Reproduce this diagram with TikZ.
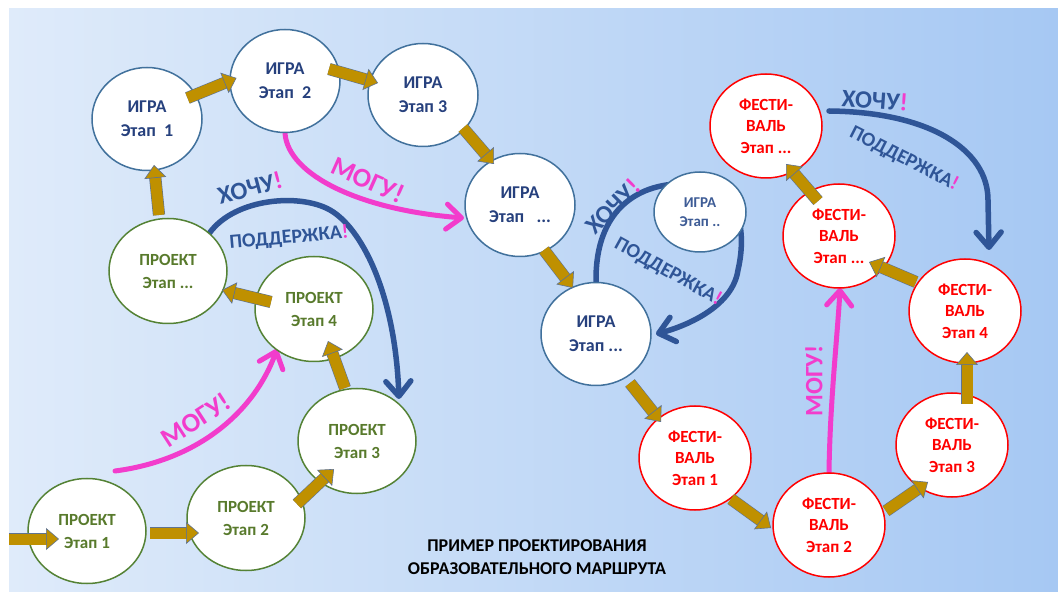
\documentclass[tikz,border=0pt]{standalone}
\usepackage{fontspec}
\setmainfont{Carlito}
\usetikzlibrary{shapes.geometric,arrows.meta,calc}
\definecolor{igraborder}{RGB}{65,113,156}
\definecolor{igratext}{RGB}{38,64,125}
\definecolor{igratextlight}{RGB}{62,92,150}
\definecolor{projborder}{RGB}{84,130,53}
\definecolor{projtext}{RGB}{88,122,44}
\definecolor{festred}{RGB}{255,0,0}
\definecolor{goldc}{RGB}{191,144,0}
\definecolor{goldedge}{RGB}{95,115,145}
\definecolor{pinkc}{RGB}{242,60,204}
\definecolor{arcblue}{RGB}{47,85,151}
\definecolor{bgleft}{RGB}{223,235,250}
\definecolor{bgright}{RGB}{166,200,243}
\pgfdeclarelayer{bg}
\pgfdeclarelayer{mid}
\pgfsetlayers{bg,mid,main}
\begin{document}
\begin{tikzpicture}[x=1pt,y=-1pt,
  stage/.style={ellipse, fill=white, line width=1.5pt, inner sep=0pt, align=center},
  igra/.style={stage, draw=igraborder, text=igratext, font=\bfseries\fontsize{18}{24}\selectfont, minimum width=110pt, minimum height=103pt},
  igrasmall/.style={stage, draw=igraborder, text=igratextlight, font=\bfseries\fontsize{15}{19}\selectfont, minimum width=92pt, minimum height=80pt},
  proj/.style={stage, draw=projborder, text=projtext, font=\bfseries\fontsize{17}{23}\selectfont, minimum width=118pt, minimum height=105pt},
  fest/.style={stage, draw=festred, text=festred, font=\bfseries\fontsize{17}{21.5}\selectfont, minimum width=112pt, minimum height=104pt},
  goldarrow/.style={draw=goldc, line width=11pt,
    -{Triangle[width=22pt,length=13pt,color=goldedge,fill=goldc,line width=0.6pt]},
    preaction={draw=goldedge, line width=12.2pt, -, shorten >=12pt}},
  pinkarrow/.style={draw=pinkc, line width=5pt, line cap=round,
    -{Straight Barb[length=15pt,width=25pt,round]}},
  bluearrow/.style={draw=arcblue, line width=5.5pt, line cap=round,
    -{Straight Barb[length=15pt,width=25pt,round]}},
  wantlbl/.style={inner sep=0pt, text=arcblue, font=\bfseries\fontsize{25}{25}\selectfont},
  supportlbl/.style={inner sep=0pt, text=arcblue, font=\bfseries\fontsize{20}{20}\selectfont},
  canlbl/.style={inner sep=0pt, text=pinkc, font=\bfseries\fontsize{27}{27}\selectfont},
  titlelbl/.style={inner sep=0pt, text=black, align=center, font=\bfseries\fontsize{18}{23}\selectfont}
]
\useasboundingbox (0,0) rectangle (1058,593);
\begin{pgfonlayer}{bg}
  \fill[white] (0,0) rectangle (1058,593);
  \shade[left color=bgleft, right color=bgright] (9,9) rectangle (1058,591);
\end{pgfonlayer}

% ---------- nodes ----------
\node[igra] (I1) at (147,119) {ИГРА\\Этап~~1};
\node[igra] (I2) at (285,81) {ИГРА\\Этап~~2};
\node[igra] (I3) at (423,95) {ИГРА\\Этап 3};
\node[igra] (I4) at (520,205) {ИГРА\\Этап~~~...};
\node[igrasmall] (I5) at (700,212) {ИГРА\\Этап ..};
\node[igra] (I6) at (596,334) {ИГРА\\Этап ...};

\node[proj] (P5) at (168,271) {ПРОЕКТ\\Этап ...};
\node[proj] (P4) at (314,309) {ПРОЕКТ\\Этап 4};
\node[proj] (P3) at (357,441) {ПРОЕКТ\\Этап 3};
\node[proj] (P2) at (246,518) {ПРОЕКТ\\Этап 2};
\node[proj] (P1) at (87,531) {ПРОЕКТ\\Этап 1};

\node[fest] (F1) at (695,458) {ФЕСТИ-\\ВАЛЬ\\Этап 1};
\node[fest] (F2) at (829,525) {ФЕСТИ-\\ВАЛЬ\\Этап 2};
\node[fest] (F3) at (952,445) {ФЕСТИ-\\ВАЛЬ\\Этап 3};
\node[fest] (F4) at (965,311) {ФЕСТИ-\\ВАЛЬ\\Этап 4};
\node[fest] (F5) at (839,236) {ФЕСТИ-\\ВАЛЬ\\Этап ...};
\node[fest] (F6) at (766,126) {ФЕСТИ-\\ВАЛЬ\\Этап ...};

\coordinate (entry) at (9,539);

% ---------- curved arrows (behind nodes) ----------
\begin{pgfonlayer}{mid}
  % МОГУ! upper
  \draw[pinkarrow] (I2.south) .. controls (288,175) and (360,210) .. ($(I4)+(-56,13)$);
  % МОГУ! lower
  \draw[pinkarrow] ($(P1)+(28,-60)$) .. controls (200,460) and (255,410) .. ($(P4)+(-37,40)$);
  % МОГУ! vertical
  \draw[pinkarrow] (F2.north) .. controls (830,400) and (838,330) .. ($(F5)+(1,52)$);
  % ХОЧУ! left
  \draw[bluearrow] ($(P5)+(41.5,-38)$) .. controls (235,198) and (300,193) .. (330,210)
     .. controls (360,227) and (395,290) .. ($(P3)+(42,-42)$);
  % ХОЧУ! middle loop
  \draw[bluearrow] (I6.north) .. controls (595,200) and (650,178) .. (700,185)
     .. controls (745,192) and (745,240) .. (738,270)
     .. controls (733,305) and (690,325) .. ($(I6)+(60,0)$);
  % ХОЧУ! right
  \draw[bluearrow] ($(F6)+(63,-15)$) .. controls (930,112) and (988,150) .. (988,200)
     -- ($(F4)+(24,-61)$);
\end{pgfonlayer}

% ---------- golden arrows ----------
\draw[goldarrow] ($(I1)+(40.5,-21)$) -- ($(I2)+(-48.5,-3)$);
\draw[goldarrow] ($(I2)+(44,-12)$) -- ($(I3)+(-45,-12)$);
\draw[goldarrow] ($(I3)+(40,33)$) -- ($(I4)+(-26,-41)$);
\draw[goldarrow] ($(P5)+(-9,-56)$) -- ($(I1)+(7,46)$);
\draw[goldarrow] ($(P4)+(-43,-7)$) -- ($(P5)+(54,19)$);
\draw[goldarrow] ($(P3)+(-12,-53)$) -- ($(P4)+(14,32)$);
\draw[goldarrow] ($(P2)+(51,-14)$) -- ($(P3)+(-23,28)$);
\draw[goldarrow] ($(P1)+(63,2)$) -- ($(P2)+(-47,15)$);
\draw[goldarrow] (entry) -- ($(P1)+(-28,8)$);
\draw[goldarrow] ($(I4)+(24,45)$) -- ($(I6)+(-23,-46)$);
\draw[goldarrow] ($(I6)+(34,49)$) -- ($(F1)+(-34,-36)$);
\draw[goldarrow] ($(F1)+(36,41)$) -- ($(F2)+(-58,3)$);
\draw[goldarrow] ($(F2)+(57,-14)$) -- ($(F3)+(-24,37)$);
\draw[goldarrow] ($(F3)+(15,-41)$) -- ($(F4)+(2,41)$);
\draw[goldarrow] ($(F4)+(-49,-29)$) -- ($(F5)+(30,26)$);
\draw[goldarrow] ($(F5)+(-21,-35)$) -- ($(F6)+(20,38)$);

% ---------- labels ----------
\node[canlbl, rotate=-24] (can1) at (368,180) {МОГУ!};
\node[canlbl, rotate=33] (can2) at (196,420) {МОГУ!};
\node[canlbl, rotate=90, font=\bfseries\fontsize{25}{25}\selectfont] (can3) at (814,381) {МОГУ!};
\node[wantlbl, rotate=15] (want1) at (250,188) {ХОЧУ\textcolor{pinkc}{!}};
\node[supportlbl, rotate=5] (sup1) at (289,238) {ПОДДЕРЖКА\textcolor{pinkc}{!}};
\node[wantlbl, rotate=45] (want2) at (613,206) {ХОЧУ\textcolor{pinkc}{!}};
\node[supportlbl, rotate=-29] (sup2) at (668,272) {ПОДДЕРЖКА\textcolor{pinkc}{!}};
\node[wantlbl, rotate=-4] (want3) at (875,100) {ХОЧУ\textcolor{pinkc}{!}};
\node[supportlbl, rotate=-27] (sup3) at (904,159) {ПОДДЕРЖКА\textcolor{pinkc}{!}};
\node[titlelbl] (title) at (537,557) {ПРИМЕР ПРОЕКТИРОВАНИЯ\\ОБРАЗОВАТЕЛЬНОГО МАРШРУТА};
\end{tikzpicture}
\end{document}
